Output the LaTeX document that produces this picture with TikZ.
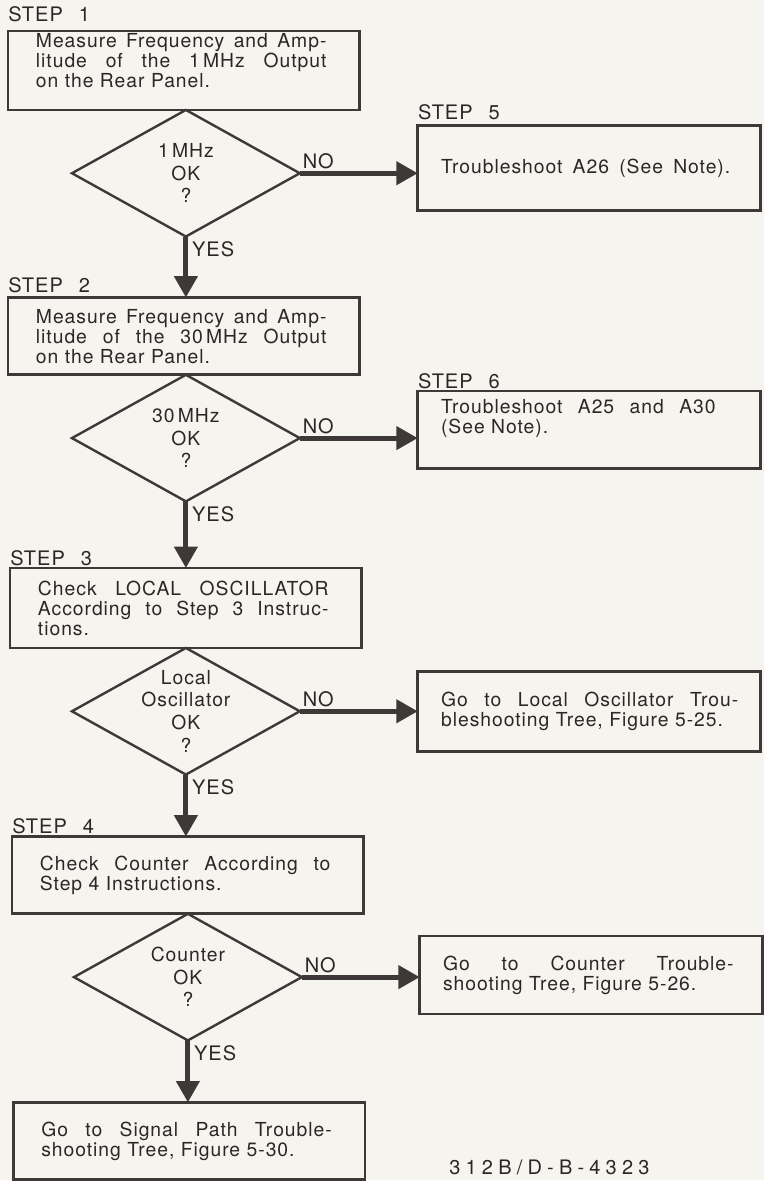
\documentclass[tikz,border=0pt]{standalone}
\usepackage{fontspec}
\setmainfont{TeX Gyre Heros}[LetterSpace=5]
\usepackage{tikz}
\usetikzlibrary{positioning, arrows.meta, shapes.geometric}
\definecolor{ink}{HTML}{3E3838}
\definecolor{paper}{HTML}{F5F4EF}
\newcommand{\jl}[2][218pt]{\leavevmode\hbox to #1{\spaceskip=0.3em plus 1fil\relax #2}}

\begin{document}
\begin{tikzpicture}[
		caja/.style={
			rectangle,
			draw=ink,
			line width=2pt,
			fill=paper,
			minimum width=264pt,
			minimum height=58pt,
			inner sep=0pt,
			outer sep=0pt,
			text width=222pt,
			align=left,
			text=ink!70!black,
			font={\fontsize{14.5}{15}\selectfont}
		},
		nota/.style={
			caja,
			minimum width=257pt
		},
		pregunta/.style={
			diamond,
			aspect=1.8,
			draw=ink,
			line width=1.8pt,
			fill=paper,
			minimum width=171pt,
			minimum height=95pt,
			inner sep=-5pt,
			outer sep=0pt,
			align=center,
			text=ink!70!black,
			font={\fontsize{14.5}{17}\selectfont}
		},
		paso/.style={
			inner sep=0pt,
			text=ink!70!black,
			font={\fontsize{15}{18}\selectfont}
		},
		resp/.style={
			inner sep=0pt,
			text=ink!70!black,
			font={\fontsize{15}{17}\selectfont}
		},
		flecha/.style={
			-{Triangle[length=16pt, width=17pt]},
			line width=3.75pt,
			ink
		}
		]
		\fill[paper] (-138pt,52.875pt) rectangle (435pt,-832.875pt);
		% Nodes
		\node[caja, minimum height=59.25pt, text depth=45pt] (b1) at (0,0)
		{\jl{Measure Frequency and Amp-}\\
			\jl{litude of the 1\,MHz Output}\\
			on the Rear Panel.};
		\node[pregunta, below=0pt of b1, xshift=1.5pt] (d1)
		{1\,MHz\\OK\\?};
		\node[caja, below=45.75pt of d1, xshift=-1.5pt] (b2)
		{\jl{Measure Frequency and Amp-}\\
			\jl{litude of the 30\,MHz Output}\\
			on the Rear Panel.};
		\node[pregunta, below=0pt of b2, xshift=1.5pt] (d2)
		{30\,MHz\\OK\\?};
		\node[caja, below=50pt of d2, minimum height=60pt] (b3)
		{\jl{Check LOCAL OSCILLATOR}\\
			\jl{According to Step 3 Instruc-}\\
			tions.};
		\node[pregunta, below=0pt of b3] (d3)
		{Local\\Oscillator\\OK\\?};
		\node[caja, below=46.5pt of d3, xshift=1.5pt] (b4)
		{\jl{Check Counter According to}\\
			Step 4 Instructions.};
		\node[pregunta, below=0pt of b4] (d4)
		{Counter\\OK\\?};
		\node[caja, below=46.5pt of d4, xshift=1pt] (fin)
		{\jl{Go to Signal Path Trouble-}\\
			shooting Tree, Figure 5-30.};
		\node[nota, right=88.5pt of d1, yshift=4pt, minimum height=64pt] (n5)
		{\jl[217pt]{Troubleshoot A26 (See Note).}};
		\node[nota, right=88.5pt of d2, yshift=6.4pt, text depth=35pt] (n6)
		{\jl[206pt]{Troubleshoot A25 and A30}\\
			(See Note).};
		\node[nota, right=88.5pt of d3, minimum height=60pt] (n7)
		{\jl[223pt]{Go to Local Oscillator Trou-}\\
			bleshooting Tree, Figure 5-25.};
		\node[nota, right=88.5pt of d4, yshift=1.5pt, minimum height=58.5pt] (n8)
		{\jl{Go to Counter Trouble-}\\
			shooting Tree, Figure 5-26.};
		% Arrows
		\draw[flecha] (d1.south) -- (d1.south |- b2.north);
		\draw[flecha] (d2.south) -- (d2.south |- b3.north);
		\draw[flecha] (d3.south) -- (d3.south |- b4.north);
		\draw[flecha] (d4.south) -- (d4.south |- fin.north);
		\draw[flecha] (d1.east) -- (d1.east -| n5.west);
		\draw[flecha] (d2.east) -- (d2.east -| n6.west);
		\draw[flecha] (d3.east) -- (d3.east -| n7.west);
		\draw[flecha] (d4.east) -- (d4.east -| n8.west);
		% Labels
		\node[paso, above right=6.75pt and 0pt of b1.north west] (s1) {STEP\hspace{0.8em}1};
		\node[paso, above right=3pt and 0pt of b2.north west] (s2) {STEP\hspace{0.8em}2};
		\node[paso, above right=1.5pt and 0pt of b3.north west] (s3) {STEP\hspace{0.8em}3};
		\node[paso, above right=1.5pt and 0pt of b4.north west] (s4) {STEP\hspace{0.8em}4};
		\node[paso, above right=3.75pt and 0pt of n5.north west] (s5) {STEP\hspace{0.8em}5};
		\node[paso, above right=1.5pt and 0pt of n6.north west] (s6) {STEP\hspace{0.8em}6};
		\node[resp, above right=3pt and 2pt of d1.east] (no1) {NO};
		\node[resp, above right=3pt and 2pt of d2.east] (no2) {NO};
		\node[resp, above right=3pt and 2pt of d3.east] (no3) {NO};
		\node[resp, above right=3pt and 2pt of d4.east] (no4) {NO};
		\node[resp, below right=3.5pt and 4.5pt of d1.south] (si1) {YES};
		\node[resp, below right=3.5pt and 4.5pt of d2.south] (si2) {YES};
		\node[resp, below right=3.5pt and 4.5pt of d3.south] (si3) {YES};
		\node[resp, below right=3.5pt and 4.5pt of d4.south] (si4) {YES};
		\node[
		resp,
		right=63pt of fin,
		yshift=-20pt
		] (ref)
		{\addfontfeatures{LetterSpace=26}312B/D-B-4323};
	\end{tikzpicture}
\end{document}
